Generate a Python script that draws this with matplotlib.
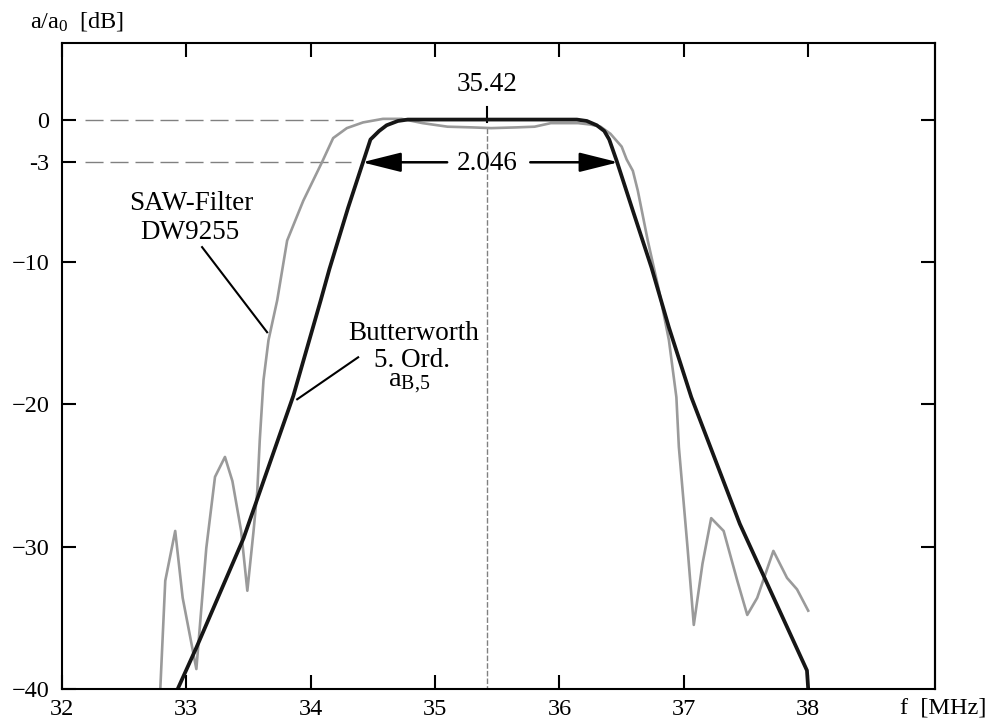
import matplotlib
matplotlib.use('Agg')
import matplotlib.pyplot as plt

plt.rcParams['font.family'] = ['Liberation Serif', 'DejaVu Serif']
plt.rcParams['mathtext.fontset'] = 'custom'
plt.rcParams['mathtext.rm'] = 'Liberation Serif'
plt.rcParams['mathtext.it'] = 'Liberation Serif:italic'

# ── data ─────────────────────────────────────────────────────────────────────
F0 = 35.42          # centre frequency [MHz]
BW = 2.046          # 3 dB bandwidth [MHz]

bw_f = [32.93, 33.08, 33.46, 33.86, 34.08, 34.15, 34.30, 34.42, 34.48, 34.55,
        34.61, 34.70, 34.78, 36.14, 36.22, 36.30, 36.36, 36.40, 36.46, 36.59,
        36.74, 36.88, 37.06, 37.45, 37.99, 38.00]
bw_db = [-40.0, -37.1, -29.4, -19.4, -12.7, -10.5, -6.2, -3.0, -1.4, -0.8,
         -0.4, -0.1, 0.0, 0.0, -0.1, -0.4, -0.8, -1.4, -2.9, -6.4,
         -10.4, -14.6, -19.5, -28.4, -38.7, -40.0]

saw_f = [32.79, 32.83, 32.91, 32.97, 33.08, 33.16, 33.23, 33.31, 33.37, 33.44,
         33.49, 33.54, 33.57, 33.59, 33.62, 33.66, 33.73, 33.81, 33.94, 34.09,
         34.18, 34.29, 34.42, 34.58, 34.73, 34.90, 35.10, 35.30, 35.45, 35.65,
         35.80, 35.93, 36.15, 36.25, 36.33, 36.41, 36.50, 36.54, 36.59, 36.63,
         36.71, 36.80, 36.88, 36.94, 36.96, 37.03, 37.08, 37.15, 37.22, 37.32,
         37.43, 37.51, 37.59, 37.72, 37.83, 37.91, 38.00]
saw_db = [-40.0, -32.4, -28.9, -33.6, -38.6, -30.1, -25.1, -23.7, -25.4, -28.9,
          -33.1, -28.9, -26.1, -22.5, -18.3, -15.5, -12.7, -8.5, -5.7, -3.0,
          -1.3, -0.6, -0.2, 0.05, 0.05, -0.25, -0.5, -0.55, -0.6, -0.55,
          -0.5, -0.25, -0.25, -0.35, -0.5, -1.0, -1.9, -2.8, -3.6, -5.0,
          -8.5, -12.0, -15.5, -19.5, -23.0, -30.1, -35.5, -31.2, -28.0, -28.9,
          -32.4, -34.8, -33.6, -30.3, -32.2, -33.0, -34.5]

x_ticks = [32, 33, 34, 35, 36, 37, 38]
y_ticks = [-40, -30, -20, -10, -3, 0]
y_ticklabels = ['\u221240', '\u221230', '\u221220', '\u221210', '-3', '0']
right_ticks = [-30, -20, -10, 0]

ANN = 19.5      # annotation text size
TCK = 17.5      # tick / axis label size

# ── figure ───────────────────────────────────────────────────────────────────
fig = plt.figure(figsize=(9.88, 7.25), dpi=100)
ax = fig.add_axes([0.0628, 0.0497, 0.8836, 0.891])
ax.set_xlim(32, 39.02)
ax.set_ylim(-40, 5.38)

# reference lines
ax.plot([32.185, 34.38], [0, 0], color='#808080', lw=1, ls=(0, (13, 5)))
ax.plot([32.185, 34.32], [-3, -3], color='#808080', lw=1, ls=(0, (13, 5)))
ax.plot([F0, F0], [-0.6, -40], color='#808080', lw=1, ls=(0, (4, 1.5)))
ax.plot([F0, F0], [0.88, -0.18], color='k', lw=1.5)

# curves
ax.plot(saw_f, saw_db, color='#9a9a9a', lw=1.9, solid_joinstyle='round')
ax.plot(bw_f, bw_db, color='#161616', lw=2.7, solid_joinstyle='round')

# bandwidth arrows
arrow = dict(arrowstyle='-|>,head_length=1.2,head_width=0.3', mutation_scale=20,
             lw=1.8, color='k', shrinkA=0, shrinkB=0)
ax.annotate('', xy=(34.413, -3), xytext=(35.097, -3), arrowprops=arrow)
ax.annotate('', xy=(36.473, -3), xytext=(35.765, -3), arrowprops=arrow)
ax.text(F0, -3.06, f'{BW:.3f}', ha='center', va='center', fontsize=ANN)
ax.text(F0, 2.43, f'{F0:.2f}', ha='center', va='center', fontsize=ANN)

# labels with leader lines
ax.text(33.038, -5.87, 'SAW-Filter', ha='center', va='center', fontsize=ANN)
ax.text(33.03, -7.91, 'DW9255', ha='center', va='center', fontsize=ANN)
ax.plot([33.126, 33.649], [-8.96, -14.94], color='k', lw=1.5)

ax.text(34.824, -15.0, 'Butterworth', ha='center', va='center', fontsize=ANN)
ax.text(34.816, -16.9, '5. Ord.', ha='center', va='center', fontsize=ANN)
ax.text(34.79, -18.55, r'$\mathrm{a}_{\mathrm{B{,}5}}$', ha='center', va='center',
        fontsize=ANN + 1)
ax.plot([34.381, 33.891], [-16.7, -19.65], color='k', lw=1.5)

# axes, ticks
for s in ax.spines.values():
    s.set_linewidth(1.5)
ax.set_xticks(x_ticks)
ax.set_xticklabels([str(t) for t in x_ticks])
ax.set_yticks(y_ticks)
ax.set_yticklabels(y_ticklabels)
ax.tick_params(axis='both', direction='in', length=10, width=1.5,
               labelsize=TCK, top=True, right=False)
ax.tick_params(axis='x', pad=7)
ax.tick_params(axis='y', pad=9)

sec = ax.secondary_yaxis('right')
sec.set_yticks(right_ticks)
sec.tick_params(direction='in', length=10, width=1.5, labelright=False)
sec.spines['right'].set_linewidth(1.5)

fig.text(0.0304, 0.9697, r'a/a$_0$  [dB]', ha='left', va='center', fontsize=TCK)
fig.text(0.998, 0.0234, 'f  [MHz]', ha='right', va='center', fontsize=TCK)

fig.savefig('out.png', dpi=100)
